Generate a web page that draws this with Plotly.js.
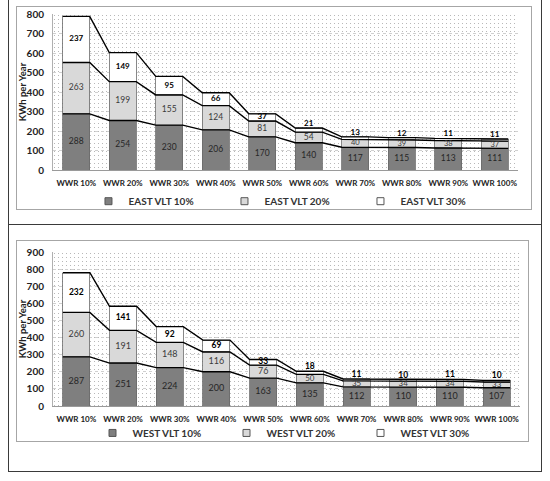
<!DOCTYPE html>
<html>
<head>
<meta charset="utf-8">
<script src="https://cdn.plot.ly/plotly-3.0.1.min.js"></script>
<style>
  html, body { margin:0; padding:0; background:#fff; width:550px; height:481px; overflow:hidden; }
  .outer { position:absolute; box-sizing:border-box; border:1.5px solid #3a3a3a; background:#fff; }
  .inner { position:absolute; box-sizing:border-box; border:1.5px solid #a6a6a6; background:#fff; }
  .plot { position:absolute; left:0; top:0; }
</style>
</head>
<body>
<div class="outer" style="left:8px; top:-1px; width:534px; height:227px;"></div>
<div class="outer" style="left:8px; top:224px; width:534px; height:248px;"></div>
<div class="inner" style="left:16px; top:6px; width:516px; height:204px;"></div>
<div class="inner" style="left:16px; top:240px; width:513px; height:202px;"></div>
<div id="east" class="plot" style="left:17px; top:7px;"></div>
<div id="west" class="plot" style="left:17px; top:241px;"></div>
<script>
// ---------- data ----------
const categories = ['WWR 10%','WWR 20%','WWR 30%','WWR 40%','WWR 50%','WWR 60%','WWR 70%','WWR 80%','WWR 90%','WWR 100%'];

const eastNames = ['EAST VLT 10%','EAST VLT 20%','EAST VLT 30%'];
const eastVLT10 = [288,254,230,206,170,140,117,115,113,111];
const eastVLT20 = [263,199,155,124,81,54,40,39,38,37];
const eastVLT30 = [237,149,95,66,37,21,13,12,11,11];

const westNames = ['WEST VLT 10%','WEST VLT 20%','WEST VLT 30%'];
const westVLT10 = [287,251,224,200,163,135,112,110,110,107];
const westVLT20 = [260,191,148,116,76,50,35,34,34,33];
const westVLT30 = [232,141,92,69,33,18,11,10,11,10];

const yTitle = 'KWh per Year';

// ---------- styling ----------
const FONT = 'Lato, "Liberation Sans", sans-serif';
const BAR_W = 0.58;
const colors = ['#7f7f7f', '#d9d9d9', '#ffffff'];

function dotPattern(w, h) {
  const svg = '<svg xmlns="http://www.w3.org/2000/svg" width="' + w + '" height="' + h + '" viewBox="0 0 ' + w + ' ' + h + '">' +
    '<defs><pattern id="p" width="4" height="4" patternUnits="userSpaceOnUse">' +
    '<rect x="1" y="1" width="1" height="1" fill="#b8b8b8"/>' +
    '</pattern></defs><rect width="' + w + '" height="' + h + '" fill="url(#p)"/></svg>';
  return 'data:image/svg+xml;charset=utf-8,' + encodeURIComponent(svg);
}

function makeChart(divId, names, s1, s2, s3, opt) {
  const idx = categories.map((c, i) => i);
  const pw = opt.w - opt.l - opt.r, ph = opt.h - opt.t - opt.b;
  const pxPerUnit = ph / opt.ymax;
  const c1 = s1;
  const c2 = s1.map((v, i) => v + s2[i]);
  const c3 = s1.map((v, i) => v + s2[i] + s3[i]);

  const traces = [];
  [s1, s2, s3].forEach((s, k) => {
    traces.push({
      type: 'bar', x: idx, y: s, width: BAR_W, name: names[k], showlegend: false, hoverinfo: 'skip',
      marker: { color: colors[k], line: { color: '#6a6a6a', width: 0.8 } }
    });
  });
  // series lines connecting cumulative tops
  [c1, c2, c3].forEach(lv => {
    const xs = [], ys = [];
    lv.forEach((v, i) => { xs.push(i - BAR_W / 2, i + BAR_W / 2); ys.push(v, v); });
    traces.push({
      type: 'scatter', mode: 'lines', x: xs, y: ys, showlegend: false, hoverinfo: 'skip',
      line: { color: '#000', width: 1.4 }, cliponaxis: false
    });
  });
  // data labels
  traces.push({
    type: 'scatter', mode: 'text', x: idx, y: s1.map(v => v / 2), text: s1.map(String),
    textposition: 'middle center', showlegend: false, hoverinfo: 'skip', cliponaxis: false,
    textfont: { family: FONT, size: opt.lab, color: '#262626' }
  });
  const small2 = s2.map(v => v * pxPerUnit < 9);
  traces.push({
    type: 'scatter', mode: 'text', x: idx, y: s2.map((v, i) => c1[i] + v / 2), text: s2.map(String),
    textposition: 'middle center', showlegend: false, hoverinfo: 'skip', cliponaxis: false,
    textfont: { family: FONT, size: small2.map(b => b ? opt.lab - 1 : opt.lab), color: '#3a3a3a' }
  });
  const inside = s3.map(v => v * pxPerUnit >= 5);
  traces.push({
    type: 'scatter', mode: 'text', x: idx,
    y: s3.map((v, i) => inside[i] ? c2[i] + v / 2 : c3[i]),
    text: s3.map(String),
    textposition: inside.map(b => b ? 'middle center' : 'top center'),
    showlegend: false, hoverinfo: 'skip', cliponaxis: false,
    textfont: { family: FONT, size: opt.lab - 0.5, color: '#000', weight: 'bold' }
  });
  // legend entries (small square keys)
  names.forEach((n, k) => {
    traces.push({
      type: 'scatter', mode: 'markers', x: [null], y: [null], name: n, showlegend: true,
      marker: { symbol: 'square', size: 7, color: colors[k], line: { color: '#555', width: 1 } }
    });
  });

  const layout = {
    width: opt.w, height: opt.h,
    margin: { l: opt.l, r: opt.r, t: opt.t, b: opt.b, pad: 0 },
    paper_bgcolor: 'rgba(0,0,0,0)', plot_bgcolor: '#ffffff',
    barmode: 'stack',
    font: { family: FONT, color: '#222' },
    showlegend: true,
    legend: {
      orientation: 'h', x: opt.legX, xanchor: 'center', y: opt.legY, yanchor: 'middle',
      entrywidth: opt.entry, entrywidthmode: 'pixels', itemwidth: 30, traceorder: 'normal',
      font: { family: FONT, size: 10, color: '#333', weight: 'bold' },
      bgcolor: 'rgba(0,0,0,0)'
    },
    xaxis: {
      type: 'linear', range: [-0.5, 9.5], tickmode: 'array', tickvals: idx, ticktext: categories,
      tickangle: 0,
      showgrid: false, zeroline: false, showline: true, linecolor: '#9a9a9a', linewidth: 1,
      ticks: '', ticklabelstandoff: 5,
      tickfont: { family: FONT, size: 8, color: '#222', weight: 'bold' }
    },
    yaxis: {
      range: [0, opt.ymax], dtick: 100, tick0: 0,
      showgrid: true, gridcolor: '#d0d0d0', griddash: 'dot', gridwidth: 1,
      zeroline: false, showline: true, linecolor: '#b0b0b0', linewidth: 1,
      ticks: '', ticklabelstandoff: 6,
      tickfont: { family: FONT, size: 10, color: '#222', weight: 'bold' },
      title: { text: yTitle, standoff: 4, font: { family: FONT, size: 9.5, color: '#222', weight: 'bold' } }
    },
    images: [{
      source: dotPattern(Math.round(pw), Math.round(ph)),
      xref: 'paper', yref: 'paper', x: 0, y: 1, sizex: 1, sizey: 1,
      xanchor: 'left', yanchor: 'top', sizing: 'stretch', layer: 'below'
    }]
  };
  Plotly.newPlot(divId, traces, layout, { staticPlot: true, displayModeBar: false });
}

// plot area (page coords): east x 53..518, y 14..170 ; west x 53..520, y 252..406
makeChart('east', eastNames, eastVLT10, eastVLT20, eastVLT30,
  { w: 514, h: 216, l: 36, r: 13, t: 7, b: 53, ymax: 800, legX: 0.515, legY: -0.2, lab: 8.5, entry: 91 });
makeChart('west', westNames, westVLT10, westVLT20, westVLT30,
  { w: 511, h: 214, l: 36, r: 8, t: 11, b: 49, ymax: 900, legX: 0.515, legY: -0.175, lab: 9, entry: 89 });
</script>
</body>
</html>
